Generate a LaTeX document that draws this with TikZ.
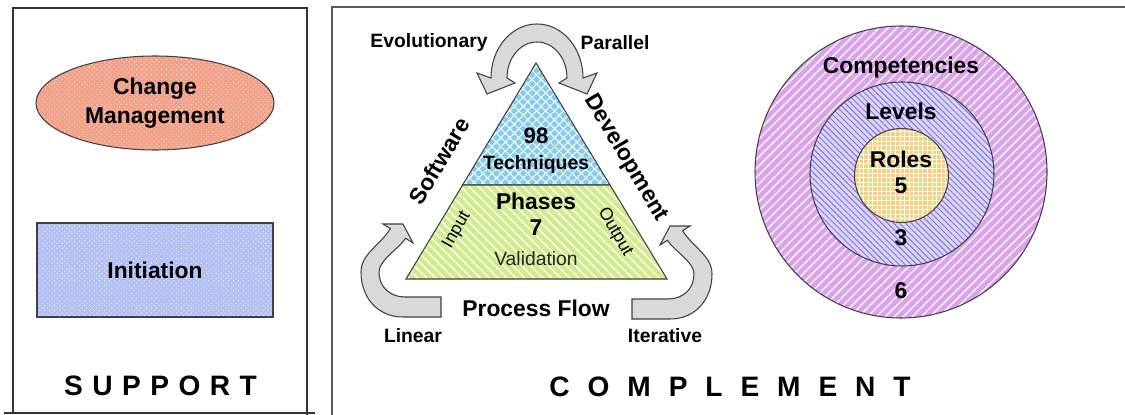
\documentclass[tikz,border=0pt]{standalone}
\usepackage{fontspec}
\setmainfont{Liberation Sans}
\usetikzlibrary{patterns.meta,shapes.geometric}
\definecolor{salmon}{HTML}{F2A088}
\definecolor{iniblue}{HTML}{B4C0F2}
\definecolor{skyb}{HTML}{86CCEC}
\definecolor{lime}{HTML}{D2EC8C}
\definecolor{pinkv}{HTML}{DDA2EE}
\definecolor{lavfill}{HTML}{DCD6FA}
\definecolor{lavline}{HTML}{8474DE}
\definecolor{yelo}{HTML}{F4D27E}
\definecolor{arrowgray}{HTML}{D9D9D9}
\newcommand\fsz[2]{\fontsize{#1}{#2}\selectfont}
\tikzset{
  outline/.style={draw=black!75, line width=0.6pt},
  frameline/.style={draw=black!80, line width=0.7pt},
  blockarrow/.style={fill=arrowgray, draw=black!75, line width=0.6pt},
  lbl/.style={font=\bfseries\fsz{11}{13}, inner sep=0pt, text=black},
  big/.style={font=\bfseries\fsz{13}{16}, inner sep=0pt, text=black},
  thin/.style={font=\fsz{11}{13}, inner sep=0pt, text=black!85},
}
\begin{document}
\begin{tikzpicture}[x=0.02cm,y=-0.02cm]
\useasboundingbox (0,0) rectangle (1125,415);

% frames
\draw[frameline] (13,413) -- (13,8) -- (307,8) -- (307,415);
\draw[frameline] (4,413) -- (315,413);
\draw[draw=black!65, line width=1.1pt] (332,415) -- (332,7) -- (1125,7);

% SUPPORT column
\node[ellipse, outline, minimum width=4.76cm, minimum height=1.88cm, inner sep=0pt,
      preaction={fill=salmon}, pattern={Dots[distance=2pt,radius=0.35pt,angle=45]}, pattern color=white,
      align=center, font=\bfseries\fsz{13}{16.4}] (cm) at (155,103) {Change\\Management};
\node[rectangle, outline, minimum width=4.72cm, minimum height=1.88cm, inner sep=0pt,
      preaction={fill=iniblue}, pattern={Dots[distance=2pt,radius=0.35pt,angle=45]}, pattern color=white,
      font=\bfseries\fsz{13}{16}] (ini) at (155,270) {Initiation};
\node[font=\bfseries\fsz{16}{19}, inner sep=0pt] (sup) at (160.5,386)
  {S\kern5.4pt U\kern5.4pt P\kern5.4pt P\kern5.4pt O\kern5.4pt R\kern5.4pt T};

% triangle
\path[outline, preaction={fill=skyb}, pattern={Hatch[angle=45,distance=3.6pt,line width=0.55pt]}, pattern color=white]
  (536,63) -- (462.6,185) -- (610,185) -- cycle;
\path[outline, preaction={fill=lime}, pattern={Lines[angle=-45,distance=3.6pt,line width=0.8pt]}, pattern color=white]
  (462.6,185) -- (610,185) -- (667,279) -- (406,279) -- cycle;

% curved arrows
\path[blockarrow] (507,78) -- (515,83) -- (487,94) -- (477,73) -- (491,78)
  .. controls (491,48) and (511.6,24) .. (537,24)
  .. controls (562.4,24) and (583,48) .. (583,78)
  -- (597,73) -- (587,94) -- (559,83) -- (567,78)
  .. controls (567,58) and (553.6,42) .. (537,42)
  .. controls (520.4,42) and (507,58) .. (507,78) -- cycle;
\path[blockarrow] (441,317) -- (403,317) .. controls (378,317) and (361,298) .. (361,272)
  .. controls (361,254) and (379.7,245.6) .. (390.4,228.7)
  -- (383,224) -- (403,224) -- (413,243) -- (405.6,238.3)
  .. controls (399.2,248.4) and (379,260) .. (379,272)
  .. controls (379,287) and (390,297) .. (405,297) -- (441,297) -- cycle;
\path[blockarrow] (632,319) -- (670,319) .. controls (695,319) and (712,300) .. (712,274)
  .. controls (712,256) and (693.3,247.6) .. (682.6,230.7)
  -- (690,226) -- (670,226) -- (660,245) -- (667.4,240.3)
  .. controls (673.8,250.4) and (694,262) .. (694,274)
  .. controls (694,289) and (683,299) .. (668,299) -- (632,299) -- cycle;

% triangle texts
\node[font=\bfseries\fsz{12.7}{15}, inner sep=0pt] (n98) at (536,136) {98};
\node[font=\bfseries\fsz{11}{13}, inner sep=0pt] (tech) at (536,165) {Techniques};
\node[big] (phases) at (536,201) {Phases};
\node[big] (n7) at (536,228) {7};
\node[thin] (valid) at (536,259) {Validation};
\node[font=\fsz{10}{12}, inner sep=0pt, rotate=60] (input) at (457,230) {Input};
\node[font=\fsz{10}{12}, inner sep=0pt, rotate=-60] (output) at (615,232) {Output};
\node[big, rotate=59] (soft) at (439,161) {Software};
\node[big, rotate=-59] (dev) at (626,158) {Development};
\node[big] (pf) at (536,308) {Process Flow};
\node[lbl] (evo) at (429,43) {Evolutionary};
\node[lbl] (par) at (615,43) {Parallel};
\node[lbl] (lin) at (413,336) {Linear};
\node[lbl] (ite) at (665,336) {Iterative};

% circles
\path[outline, preaction={fill=pinkv}, pattern={Lines[angle=45,distance=3.6pt,line width=0.75pt]}, pattern color=white]
  (901,172) circle[radius=146];
\path[outline, preaction={fill=lavfill}, pattern={Lines[angle=-45,distance=2.4pt,line width=0.55pt]}, pattern color=lavline]
  (902,174) circle[radius=92];
\path[outline, preaction={fill=yelo}, pattern={Hatch[angle=0,distance=2.6pt,line width=0.35pt]}, pattern color=white]
  (901.5,175.5) circle[radius=47];
\node[big] (comp) at (901,68) {Competencies};
\node[big] (lev) at (901,111) {Levels};
\node[big] (roles) at (901,159) {Roles};
\node[big] (n5) at (901,186) {5};
\node[big] (n3) at (901,238) {3};
\node[big] (n6) at (901,291) {6};

\node[font=\bfseries\fsz{16}{19}, inner sep=0pt] (compl) at (730,387)
  {C\kern10.2pt O\kern10.2pt M\kern10.2pt P\kern10.2pt L\kern10.2pt E\kern10.2pt M\kern10.2pt E\kern10.2pt N\kern10.2pt T};
\end{tikzpicture}
\end{document}
